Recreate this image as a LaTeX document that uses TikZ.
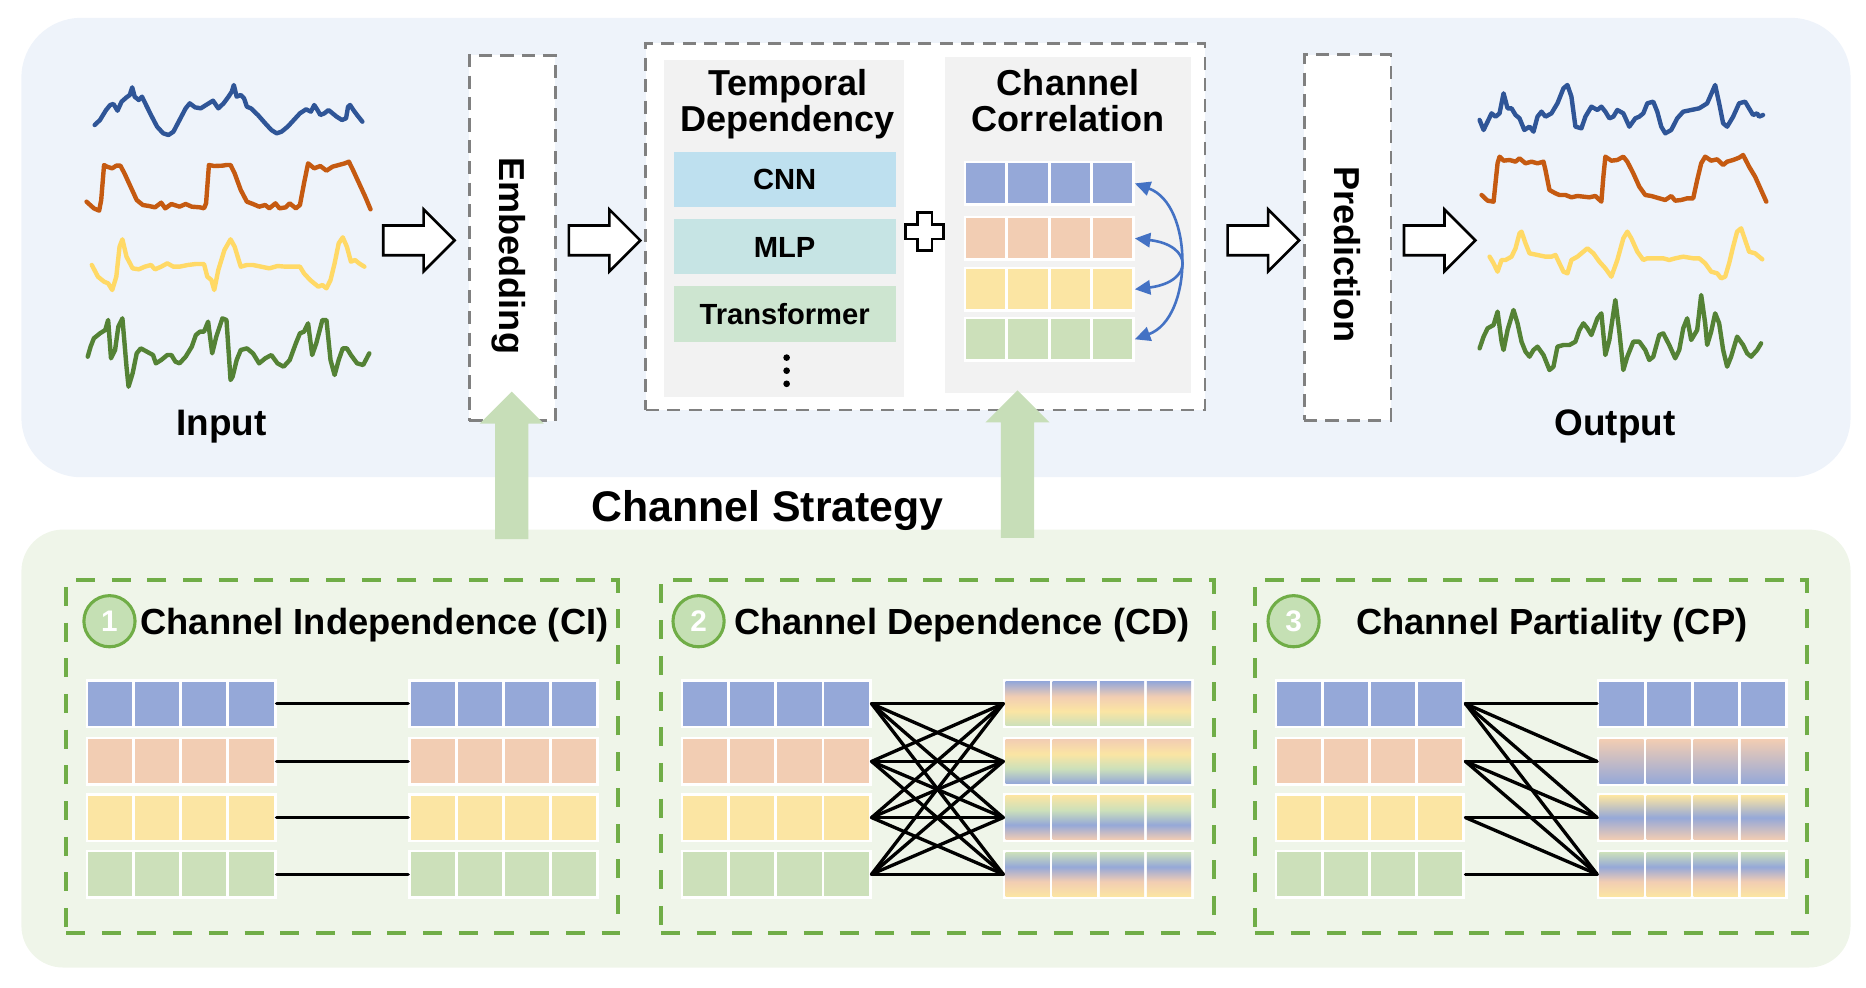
\documentclass[tikz,border=0pt]{standalone}
\usepackage{fontspec}
\setmainfont{Liberation Sans}
\usetikzlibrary{arrows.meta}
\definecolor{topbg}{HTML}{EEF3FA}
\definecolor{botbg}{HTML}{EFF5E9}
\definecolor{panelgray}{HTML}{F2F2F2}
\definecolor{dashgray}{HTML}{808080}
\definecolor{dgreen}{HTML}{70AD47}
\definecolor{lgreen}{HTML}{C5E0B4}
\definecolor{uparrowgreen}{HTML}{C7DEB8}
\definecolor{cnnc}{HTML}{BEE0EF}
\definecolor{mlpc}{HTML}{C6E4E4}
\definecolor{trfc}{HTML}{CDE5D0}
\definecolor{cb}{HTML}{95A8D8}
\definecolor{co}{HTML}{F2CDB3}
\definecolor{cy}{HTML}{FBE5A3}
\definecolor{cg}{HTML}{CCE0BA}
\definecolor{corrblue}{HTML}{4472C4}
\definecolor{wblue}{HTML}{2F5597}
\definecolor{worange}{HTML}{C55A11}
\definecolor{wyellow}{HTML}{FFD966}
\definecolor{wgreen}{HTML}{548235}
\pgfdeclareverticalshading{cdA}{100bp}{color(0bp)=(cg); color(25bp)=(cg); color(41.67bp)=(cy); color(58.33bp)=(co); color(75bp)=(cb); color(100bp)=(cb)}
\pgfdeclareverticalshading{cdB}{100bp}{color(0bp)=(cb); color(25bp)=(cb); color(41.67bp)=(cg); color(58.33bp)=(cy); color(75bp)=(co); color(100bp)=(co)}
\pgfdeclareverticalshading{cdC}{100bp}{color(0bp)=(co); color(25bp)=(co); color(41.67bp)=(cb); color(58.33bp)=(cg); color(75bp)=(cy); color(100bp)=(cy)}
\pgfdeclareverticalshading{cdD}{100bp}{color(0bp)=(cy); color(25bp)=(cy); color(41.67bp)=(co); color(58.33bp)=(cb); color(75bp)=(cg); color(100bp)=(cg)}
\pgfdeclareverticalshading{cpB}{100bp}{color(0bp)=(cb); color(25bp)=(cb); color(75bp)=(co); color(100bp)=(co)}
\pgfdeclareverticalshading{cpC}{100bp}{color(0bp)=(co); color(25bp)=(co); color(50bp)=(cb); color(75bp)=(cy); color(100bp)=(cy)}
\newcommand{\myfs}[2]{\fontsize{#1}{#2}\selectfont\bfseries}
\newcommand{\cellrow}[6]{%
  \node[rowbg, minimum width={4*#4+2}, minimum height={#5+4}, anchor=west] (#1) at ({#2-2},#3) {};
  \foreach \k in {0,1,2,3}{\path[#6] ({#2+\k*#4},{#3-#5/2}) rectangle ++({#4-2.5},#5);}%
}
\begin{document}
\begin{tikzpicture}[x=1pt,y=-1pt,
  bgpanel/.style={rectangle, inner sep=0pt, outer sep=0pt, draw=none},
  graydash/.style={rectangle, draw=dashgray, line width=2.4pt, dash pattern=on 11pt off 7pt, fill=white, inner sep=0pt, outer sep=0pt},
  greendash/.style={rectangle, draw=dgreen, line width=3.4pt, dash pattern=on 16pt off 14pt, inner sep=0pt, outer sep=0pt},
  modbox/.style={rectangle, inner sep=0pt, outer sep=0pt, minimum width=186.6pt, minimum height=46.2pt, font=\myfs{24.5}{28}, text height=17.6pt, text depth=0pt},
  rowbg/.style={rectangle, fill=white, inner sep=0pt, outer sep=0pt},
  wave/.style={line width=3.7pt, line cap=round, line join=round},
  link/.style={line width=2.8pt, black, line cap=round},
  corr/.style={draw=corrblue, line width=2.2pt, {Triangle[length=13pt,width=12pt]}-{Triangle[length=13pt,width=12pt]}},
  numcirc/.style={circle, draw=dgreen, fill=lgreen, line width=2.6pt, minimum size=43pt, inner sep=0pt, text=white, font=\myfs{25}{28}, text height=17.9pt, text depth=0pt},
  vtitle/.style={rotate=-90, inner sep=0pt, font=\myfs{30.3}{34}, text height=21.8pt, text depth=0pt},
  hollowarrow/.pic={\draw[black, fill=white, line width=2.2pt, line join=miter]
      (-30,-12.5) -- (4,-12.5) -- (4,-26) -- (30,0) -- (4,26) -- (4,12.5) -- (-30,12.5) -- cycle;},
  greenup/.pic={\fill[uparrowgreen] (0,0) -- (27,27) -- (14,27) -- (14,124) -- (-14,124) -- (-14,27) -- (-27,27) -- cycle;},
  hollowplus/.pic={\draw[black, fill=white, line width=2.2pt, line join=miter]
      (-6,-16) -- (6,-16) -- (6,-6) -- (16,-6) -- (16,6) -- (6,6) -- (6,16) -- (-6,16) -- (-6,6) -- (-16,6) -- (-16,-6) -- (-6,-6) -- cycle;}
]
\useasboundingbox (0,0) rectangle (1568,830);

% background panels
\node[bgpanel, fill=topbg, rounded corners=50pt, minimum width=1537pt, minimum height=386pt] (toppanel) at (786.5,208) {};
\node[bgpanel, fill=botbg, rounded corners=35pt, minimum width=1537pt, minimum height=368pt] (botpanel) at (786.5,629) {};

% input waves
\begin{scope}[xscale=0.3429, yscale=0.2801]
\draw[wave, wblue] plot coordinates {(232,375) (245,360) (260,330) (270,315) (278,312) (288,332) (298,305) (310,292) (318,285) (324,262) (330,290) (340,300) (348,290) (356,310) (370,345) (385,380) (400,400) (413,405) (425,395) (440,360) (455,325) (465,310) (478,322) (492,325) (505,315) (522,302) (535,325) (548,310) (560,290) (568,275) (573,255) (580,290) (590,285) (598,295) (605,320) (615,325) (632,345) (650,370) (665,390) (678,400) (690,395) (705,380) (720,360) (735,340) (750,328) (762,335) (770,315) (778,330) (785,345) (795,340) (805,330) (815,340) (825,350) (838,360) (848,355) (853,320) (858,315) (866,330) (875,345) (888,365)};
\draw[wave, worange] plot coordinates {(212,605) (230,625) (243,632) (248,600) (255,495) (262,500) (275,505) (285,497) (295,497) (305,520) (320,560) (335,600) (350,615) (365,618) (380,622) (395,608) (405,625) (420,612) (440,620) (455,612) (470,620) (490,622) (500,625) (505,610) (512,495) (525,498) (545,497) (555,495) (565,495) (575,520) (590,570) (605,605) (620,612) (635,620) (650,615) (660,625) (675,610) (685,625) (700,622) (710,610) (725,625) (735,615) (745,550) (755,490) (770,505) (785,498) (800,512) (815,500) (830,495) (845,490) (855,485) (865,510) (880,550) (895,590) (908,628)};
\draw[wave, wyellow] plot coordinates {(225,795) (240,830) (255,845) (265,850) (275,870) (285,830) (293,740) (300,718) (310,770) (325,805) (340,808) (355,800) (370,795) (380,808) (395,800) (410,790) (425,800) (440,800) (460,795) (480,792) (500,792) (508,830) (518,840) (525,870) (535,810) (550,750) (565,718) (575,740) (590,800) (605,795) (620,795) (640,800) (660,805) (680,798) (700,800) (720,800) (735,800) (745,820) (760,840) (780,860) (790,855) (800,865) (810,840) (820,790) (830,730) (840,712) (850,740) (860,785) (870,780) (880,790) (893,800)};
\draw[wave, wgreen] plot coordinates {(215,1070) (222,1040) (230,1015) (245,1000) (258,990) (265,960) (272,1075) (282,1050) (290,980) (300,955) (310,1100) (315,1160) (325,1120) (335,1060) (345,1045) (360,1055) (375,1065) (382,1090) (395,1080) (410,1065) (420,1065) (430,1085) (440,1090) (455,1070) (470,1040) (480,1005) (490,995) (500,995) (510,965) (520,1060) (530,1010) (545,955) (555,960) (565,1140) (570,1130) (580,1080) (590,1050) (605,1045) (620,1060) (635,1090) (650,1075) (665,1065) (680,1090) (695,1100) (710,1080) (725,1030) (735,1000) (745,995) (755,970) (765,1065) (775,1030) (790,960) (800,960) (810,1080) (820,1125) (830,1080) (840,1045) (850,1045) (860,1065) (875,1090) (890,1095) (905,1060)};
\end{scope}

% output waves
\begin{scope}[shift={(1042,25.2)}, xscale=0.3355, yscale=0.2801]
\draw[wave, wblue] plot coordinates {(600,270) (610,300) (620,275) (630,250) (640,260) (650,250) (660,190) (670,235) (680,235) (690,255) (700,265) (712,300) (725,290) (735,305) (745,260) (755,245) (765,260) (780,250) (795,220) (810,175) (820,165) (830,200) (840,290) (855,295) (865,260) (880,230) (895,240) (905,230) (915,245) (925,265) (935,260) (945,240) (960,250) (975,290) (990,265) (1000,260) (1010,250) (1020,220) (1035,215) (1045,245) (1055,290) (1065,310) (1080,300) (1095,265) (1110,245) (1130,240) (1150,235) (1170,220) (1190,165) (1200,220) (1210,280) (1220,290) (1235,260) (1250,220) (1265,215) (1275,235) (1285,255) (1295,250) (1300,260) (1310,255)};
\draw[wave, worange] plot coordinates {(605,495) (620,512) (635,515) (645,400) (650,380) (660,392) (675,390) (690,395) (700,385) (715,400) (730,395) (745,400) (760,395) (765,420) (775,480) (790,490) (800,495) (815,495) (830,502) (845,498) (860,500) (875,502) (890,498) (905,515) (910,440) (915,380) (930,392) (945,390) (960,380) (970,395) (985,430) (1000,470) (1015,495) (1030,498) (1050,505) (1065,510) (1080,498) (1090,512) (1105,510) (1120,505) (1135,505) (1145,450) (1155,400) (1165,380) (1180,392) (1195,388) (1210,405) (1220,395) (1235,390) (1250,383) (1260,375) (1275,410) (1290,440) (1305,480) (1318,515)};
\draw[wave, wyellow] plot coordinates {(625,680) (635,700) (645,725) (655,690) (665,690) (680,680) (690,655) (700,610) (705,605) (715,640) (725,670) (745,675) (765,680) (780,680) (790,675) (800,700) (810,725) (820,730) (830,690) (845,680) (860,665) (870,655) (885,670) (900,695) (915,715) (930,740) (945,690) (960,625) (970,605) (980,625) (995,665) (1010,690) (1020,685) (1040,685) (1060,685) (1075,690) (1090,685) (1110,680) (1135,685) (1150,685) (1165,700) (1180,725) (1195,730) (1205,745) (1215,740) (1225,700) (1235,650) (1245,605) (1255,595) (1265,630) (1275,665) (1290,670) (1300,680) (1308,688)};
\draw[wave, wgreen] plot coordinates {(600,955) (610,920) (620,895) (635,885) (645,845) (655,935) (660,960) (670,900) (685,840) (695,880) (705,935) (715,965) (725,980) (735,960) (745,950) (760,975) (775,1020) (785,1010) (795,950) (810,945) (825,945) (840,935) (850,900) (860,880) (870,895) (880,915) (895,865) (905,850) (915,975) (925,930) (940,810) (950,905) (960,1020) (970,980) (985,935) (1000,935) (1015,960) (1025,990) (1035,980) (1050,915) (1060,910) (1075,945) (1090,985) (1100,960) (1110,895) (1120,865) (1130,930) (1145,900) (1155,795) (1165,880) (1170,945) (1180,905) (1190,850) (1200,880) (1210,960) (1220,1010) (1230,980) (1245,920) (1260,945) (1270,970) (1280,980) (1295,960) (1305,940)};
\end{scope}

\node[anchor=base, inner sep=0pt, font=\myfs{31}{36}] (inlbl) at (186,366) {Input};
\node[anchor=base, inner sep=0pt, font=\myfs{31}{36}] (outlbl) at (1357,366) {Output};

% embedding / prediction
\node[graydash, minimum width=72pt, minimum height=307pt] (emb) at (430.5,200) {};
\node[vtitle] (embt) at (430.5,215) {Embedding};
\node[graydash, minimum width=73pt, minimum height=307pt] (pred) at (1132.3,199.6) {};
\node[vtitle] (predt) at (1132.3,214) {Prediction};

% core box
\node[graydash, minimum width=470pt, minimum height=308pt] (core) at (777.6,190.5) {};
\node[bgpanel, fill=panelgray, minimum width=201.4pt, minimum height=282.9pt] (tpanel) at (658.9,191.85) {};
\node[bgpanel, fill=panelgray, minimum width=207pt, minimum height=282.9pt] (cpanel) at (897.7,189.05) {};
\node[anchor=north, align=center, inner sep=0pt, font=\myfs{30.3}{30.8}] (ttitle) at (662,57.7) {Temporal\\Dependency};
\node[anchor=north, align=center, inner sep=0pt, font=\myfs{30.3}{30.8}] (ctitle) at (897.5,57.7) {Channel\\Correlation};
\node[modbox, fill=cnnc] (cnn) at (659.3,150.6) {CNN};
\node[modbox, fill=mlpc] (mlp) at (659.3,207.2) {MLP};
\node[modbox, fill=trfc, minimum height=46.8pt] (trf) at (659.3,263.7) {Transformer};
\fill (661,300.5) circle (2.8) (661,311.5) circle (2.8) (661,322.5) circle (2.8);
\pic at (777,194.7) {hollowplus};

% correlation grid
\cellrow{cc1}{812}{154.1}{35.4}{33.6}{fill=cb}
\cellrow{cc2}{812}{200.3}{35.4}{33.6}{fill=co}
\cellrow{cc3}{812}{243.1}{35.4}{33.6}{fill=cy}
\cellrow{cc4}{812}{285.1}{35.4}{33.6}{fill=cg}
\draw[corr] (cc1.east) .. controls (1003,172) and (1003,267) .. (cc4.east);
\draw[corr] (cc2.east) .. controls (1003,206) and (1003,237) .. (cc3.east);

% hollow arrows
\pic at (352,202) {hollowarrow};
\pic at (508,202) {hollowarrow};
\pic at (1061.6,202) {hollowarrow};
\pic at (1209.8,202) {hollowarrow};

% green up arrows
\pic at (430,329) {greenup};
\pic at (855,328) {greenup};

\node[anchor=base, inner sep=0pt, font=\myfs{36}{40}] (strat) at (645,438) {Channel Strategy};

% strategy boxes
\node[greendash, minimum width=463.7pt, minimum height=296.9pt] (boxci) at (287.35,635.85) {};
\node[greendash, minimum width=464.7pt, minimum height=296.9pt] (boxcd) at (787.85,635.85) {};
\node[greendash, minimum width=463.6pt, minimum height=296.9pt] (boxcp) at (1286.6,635.85) {};

\node[numcirc] (n1) at (92,522) {1};
\node[numcirc] (n2) at (587,522) {2};
\node[numcirc] (n3) at (1087,522) {3};
\node[anchor=base west, inner sep=0pt, font=\myfs{30.5}{34}] (tci) at (117.9,533) {Channel Independence (CI)};
\node[anchor=base west, inner sep=0pt, font=\myfs{30.5}{34}] (tcd) at (616.6,533) {Channel Dependence (CD)};
\node[anchor=base west, inner sep=0pt, font=\myfs{30.5}{34}] (tcp) at (1139.3,533) {Channel Partiality (CP)};

% CI
\cellrow{ciL1}{74}{591.3}{39.6}{37}{fill=cb}
\cellrow{ciL2}{74}{639.8}{39.6}{37}{fill=co}
\cellrow{ciL3}{74}{687}{39.6}{37}{fill=cy}
\cellrow{ciL4}{74}{734.6}{39.6}{37}{fill=cg}
\cellrow{ciR1}{345}{591.3}{39.6}{37}{fill=cb}
\cellrow{ciR2}{345}{639.8}{39.6}{37}{fill=co}
\cellrow{ciR3}{345}{687}{39.6}{37}{fill=cy}
\cellrow{ciR4}{345}{734.6}{39.6}{37}{fill=cg}
\foreach \i in {1,2,3,4}{\draw[link] (ciL\i.east) -- (ciR\i.west);}

% CD
\cellrow{cdL1}{574}{591.3}{39.6}{37}{fill=cb}
\cellrow{cdL2}{574}{639.8}{39.6}{37}{fill=co}
\cellrow{cdL3}{574}{687}{39.6}{37}{fill=cy}
\cellrow{cdL4}{574}{734.6}{39.6}{37}{fill=cg}
\cellrow{cdR1}{845}{591.3}{39.6}{37}{shade, shading=cdA}
\cellrow{cdR2}{845}{639.8}{39.6}{37}{shade, shading=cdB}
\cellrow{cdR3}{845}{687}{39.6}{37}{shade, shading=cdC}
\cellrow{cdR4}{845}{734.6}{39.6}{37}{shade, shading=cdD}
\foreach \i in {1,2,3,4}{\foreach \j in {1,2,3,4}{\draw[link] (cdL\i.east) -- (cdR\j.west);}}

% CP
\cellrow{cpL1}{1073}{591.3}{39.6}{37}{fill=cb}
\cellrow{cpL2}{1073}{639.8}{39.6}{37}{fill=co}
\cellrow{cpL3}{1073}{687}{39.6}{37}{fill=cy}
\cellrow{cpL4}{1073}{734.6}{39.6}{37}{fill=cg}
\cellrow{cpR1}{1344}{591.3}{39.6}{37}{fill=cb}
\cellrow{cpR2}{1344}{639.8}{39.6}{37}{shade, shading=cpB}
\cellrow{cpR3}{1344}{687}{39.6}{37}{shade, shading=cpC}
\cellrow{cpR4}{1344}{734.6}{39.6}{37}{shade, shading=cdD}
\foreach \i/\j in {1/1,1/2,1/3,1/4,2/2,2/3,2/4,3/3,3/4,4/4}{\draw[link] (cpL\i.east) -- (cpR\j.west);}
\end{tikzpicture}
\end{document}
